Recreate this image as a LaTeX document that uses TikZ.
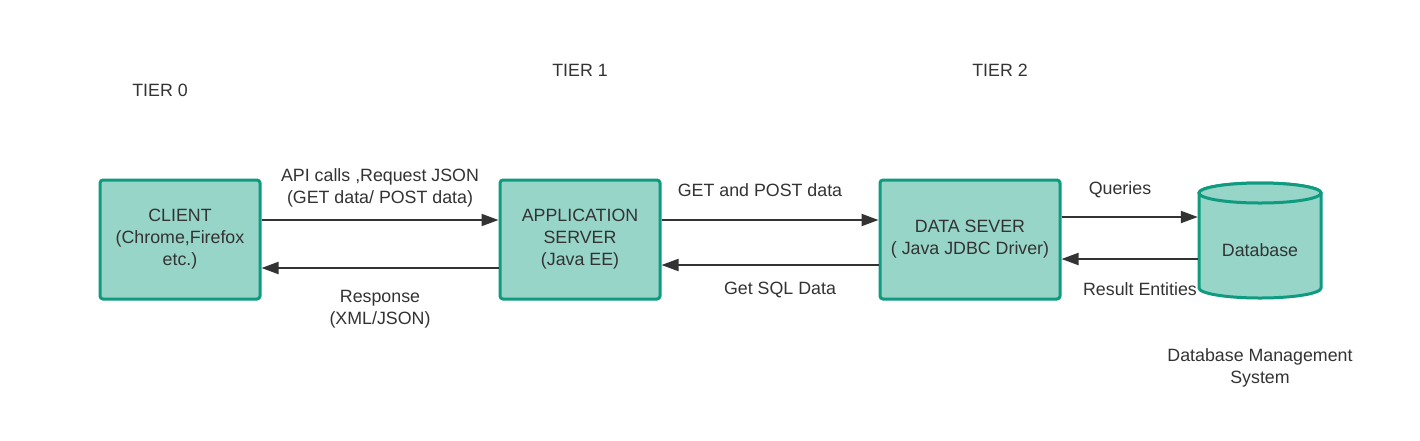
\documentclass[tikz,border=0pt]{standalone}
\usepackage{fontspec}
\setmainfont{Liberation Sans}
\usetikzlibrary{arrows.meta}
\definecolor{boxfill}{HTML}{97D5C9}
\definecolor{boxline}{HTML}{0F9B80}
\definecolor{txt}{HTML}{333333}
\begin{document}
\begin{tikzpicture}[x=1pt,y=-1pt,
  every node/.style={font=\fontsize{17.8}{22}\selectfont,text=txt,align=center,inner sep=0pt},
  tierbox/.style={draw=boxline,fill=boxfill,line width=3pt,rounded corners=3pt,minimum width=160pt,minimum height=119pt},
  dbshape/.style={draw=boxline,fill=boxfill,line width=3pt},
  conn/.style={draw=txt,line width=2pt,-{Triangle[length=17pt,width=12pt]}}]
\useasboundingbox (0,0) rectangle (1420,440);
\fill[white] (0,0) rectangle (1420,440);
\node[tierbox] (client) at (180,239.5) {CLIENT\\(Chrome,Firefox\\etc.)};
\node[tierbox] (app) at (580,239.5) {APPLICATION\\SERVER\\(Java EE)};
\node[tierbox,minimum width=180pt] (data) at (970,239.5) {DATA SEVER\\( Java JDBC Driver)};
% database cylinder
\path[dbshape] (1199,193) -- (1199,288) arc[start angle=180,end angle=0,x radius=61,y radius=10] -- (1321,193) arc[start angle=0,end angle=-180,x radius=61,y radius=10] -- cycle;
\draw[dbshape] (1260,193) ellipse[x radius=61,y radius=10];
\node[minimum width=122pt,minimum height=115pt] (db) at (1260,240.5) {};
\node (dbl) at (1260,250) {Database};
\draw[conn] (client.east |- 0,220) -- (app.west |- 0,220);
\draw[conn] (app.west |- 0,268) -- (client.east |- 0,268);
\draw[conn] (app.east |- 0,220) -- (data.west |- 0,220);
\draw[conn] (data.west |- 0,265) -- (app.east |- 0,265);
\draw[conn] (data.east |- 0,217) -- ([xshift=-1pt]db.west |- 0,217);
\draw[conn] ([xshift=-1pt]db.west |- 0,259) -- (data.east |- 0,259);
\node (l1) at (380,188) {API calls ,Request JSON\\(GET data/ POST data)};
\node (l2) at (380,309) {Response\\(XML/JSON)};
\node (l3) at (760,190) {GET and POST data};
\node (l4) at (780,290) {Get SQL Data};
\node (l5) at (1120,190) {Queries};
\node (l6) at (1140,289) {Result Entities};
\node (l7) at (1260,368) {Database Management\\System};
\node (t0) at (160,90) {TIER 0};
\node (t1) at (580,70) {TIER 1};
\node (t2) at (1000,70) {TIER 2};
\end{tikzpicture}
\end{document}
